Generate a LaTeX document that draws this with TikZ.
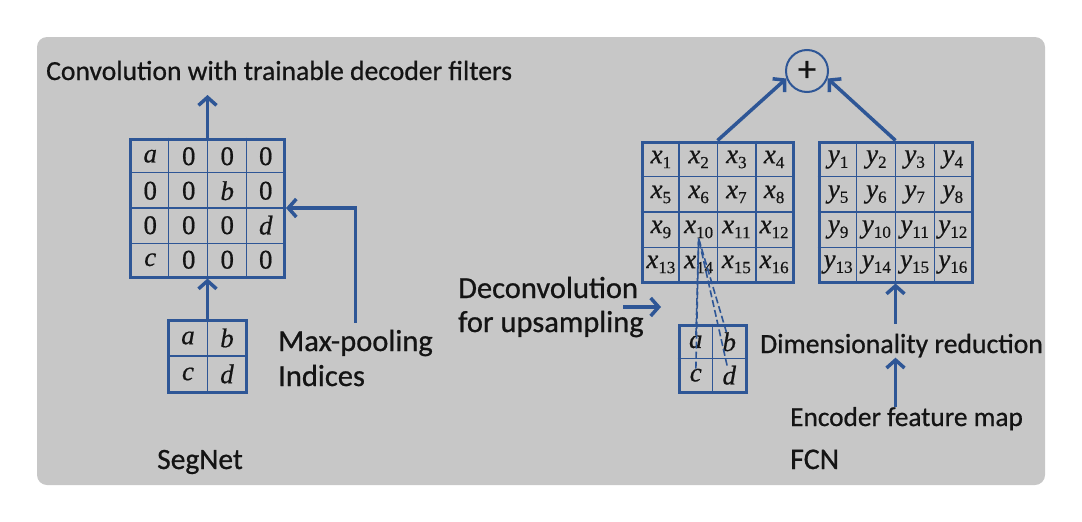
\documentclass[tikz,border=0pt]{standalone}
\usepackage{fontspec}
\setmainfont{Carlito}[FakeBold=0.7]
\newfontfamily\cellfont{Liberation Serif}[FakeBold=0.5]
\usetikzlibrary{arrows.meta,calc}
\definecolor{panel}{RGB}{199,199,199}
\definecolor{lineblue}{RGB}{46,86,150}
\definecolor{ink}{RGB}{20,20,20}
\newcommand\cellsub[2]{{\itshape #1}\raisebox{-5pt}{\fontsize{17}{17}\selectfont #2}}
\tikzset{
  gridbox/.style={draw=lineblue, line width=3pt, inner sep=0pt},
  cellline/.style={draw=lineblue, line width=1.4pt},
  cell/.style={inner sep=0pt, text=ink, font=\fontsize{27}{29}\selectfont\cellfont},
  flow/.style={draw=lineblue, line width=3.5pt, -{Straight Barb[length=8pt,width=18pt]}},
  txt/.style={text=ink, font=\fontsize{28}{30}\selectfont, inner sep=0pt, anchor=base west},
  bigtxt/.style={txt, font=\fontsize{30.5}{32}\selectfont},
  upline/.style={draw=lineblue, line width=1.6pt, dash pattern=on 7pt off 3pt},
}
\begin{document}
\begin{tikzpicture}[x=1pt, y=-1pt]
\useasboundingbox (0,0) rectangle (1082,522);
\fill[panel, rounded corners=10pt] (37,37) rectangle (1045,485);

% SegNet
\node[txt, font=\fontsize{27.6}{30}\selectfont] (title) at (46,80) {Convolution with trainable decoder filters};
\node[gridbox, minimum width=154pt, minimum height=138pt] (pool) at (207.5,208) {};
\foreach \i in {1,2,3} {
  \draw[cellline] ($(pool.north west)!\i/4!(pool.north east)$) -- ($(pool.south west)!\i/4!(pool.south east)$);
  \draw[cellline] ($(pool.north west)!\i/4!(pool.south west)$) -- ($(pool.north east)!\i/4!(pool.south east)$);
}
\foreach \t [count=\k from 0] in {\itshape a,0,0,0,0,0,\itshape b,0,0,0,0,\itshape d,\itshape c,0,0,0} {
  \pgfmathtruncatemacro\cx{mod(\k,4)}
  \pgfmathtruncatemacro\ry{\k/4}
  \node[cell] (pool-\k) at ({131+(\cx+0.5)*38.5},{139+(\ry+0.5)*34.5}) {\t};
}
\node[gridbox, minimum width=78pt, minimum height=72pt] (idx) at (207.5,356) {};
\draw[cellline] (idx.north) -- (idx.south);
\draw[cellline] (idx.west) -- (idx.east);
\foreach \t [count=\k from 0] in {a,b,c,d} {
  \pgfmathtruncatemacro\cx{mod(\k,2)}
  \pgfmathtruncatemacro\ry{\k/2}
  \node[cell] (idx-\k) at ({168.5+(\cx+0.5)*39},{320+(\ry+0.5)*36}) {\itshape\t};
}
\node[bigtxt] (maxpool) at (278,351) {Max-pooling};
\node[bigtxt] (indices) at (278,386) {Indices};
\node[txt, font=\fontsize{29.5}{30}\selectfont] (segnet) at (157,469) {SegNet};
\coordinate (convtop) at (207.5,95);
\coordinate (maxfoot) at ([yshift=7pt]maxpool.north);
\draw[flow] (pool.north) -- (convtop);
\draw[flow] (idx.north) -- (pool.south);
\draw[flow] (maxfoot) |- (pool.east);

% FCN
\node[draw=lineblue, line width=2pt, circle, minimum size=42pt, inner sep=0pt, text=ink, font=\fontsize{36}{36}\selectfont] (sum) at (807,71) {+};
\node[gridbox, minimum width=151pt, minimum height=140pt] (xg) at (717.5,212) {};
\node[gridbox, minimum width=153pt, minimum height=140pt] (yg) at (895.5,212) {};
\foreach \g in {xg,yg} {
  \foreach \i in {1,2,3} {
    \draw[cellline] ($(\g.north west)!\i/4!(\g.north east)$) -- ($(\g.south west)!\i/4!(\g.south east)$);
    \draw[cellline] ($(\g.north west)!\i/4!(\g.south west)$) -- ($(\g.north east)!\i/4!(\g.south east)$);
  }
}
\foreach \k in {1,...,16} {
  \pgfmathtruncatemacro\cx{mod(\k-1,4)}
  \pgfmathtruncatemacro\ry{(\k-1)/4}
  \node[cell] (xg-\k) at ({642+(\cx+0.5)*37.75},{142+(\ry+0.5)*35}) {\cellsub{x}{\k}};
  \node[cell] (yg-\k) at ({819+(\cx+0.5)*38.25},{142+(\ry+0.5)*35}) {\cellsub{y}{\k}};
}
\node[gridbox, minimum width=67pt, minimum height=67pt] (up) at (712.5,358.5) {};
\draw[cellline] (up.north) -- (up.south);
\draw[cellline] (up.west) -- (up.east);
\foreach \t [count=\k from 0] in {a,b,c,d} {
  \pgfmathtruncatemacro\cx{mod(\k,2)}
  \pgfmathtruncatemacro\ry{\k/2}
  \node[cell] (up-\k) at ({679+(\cx+0.5)*33.5},{325+(\ry+0.5)*33.5}) {\itshape\t};
}
\foreach \k in {0,...,3}
  \draw[upline] (up-\k) -- (xg-10.south);
\node[bigtxt] (deconv) at (458,298) {Deconvolution};
\node[bigtxt] (upsamp) at (458,332) {for upsampling};
\node[txt, font=\fontsize{27.7}{30}\selectfont] (dimred) at (760,353) {Dimensionality reduction};
\node[txt, font=\fontsize{27.3}{30}\selectfont] (encmap) at (790,426) {Encoder feature map};
\node[txt, font=\fontsize{30}{30}\selectfont] (fcn) at (790,469) {FCN};
\coordinate (dectail) at (623,307);
\coordinate (dechead) at (661,307);
\coordinate (dimfoot) at ([yshift=10pt]yg.south |- dimred.north);
\draw[flow] (xg.north) -- (sum.200);
\draw[flow] (yg.north) -- (sum.-20);
\draw[flow] (dectail) -- (dechead);
\draw[flow] (dimfoot) -- (yg.south);
\draw[flow] (yg.south |- encmap.north) -- (yg.south |- dimred.south);
\end{tikzpicture}
\end{document}
